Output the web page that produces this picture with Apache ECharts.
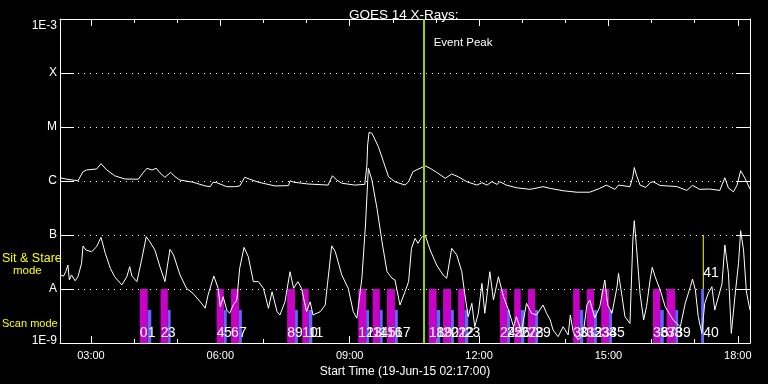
<!DOCTYPE html>
<html><head><meta charset="utf-8">
<script src="https://cdn.jsdelivr.net/npm/echarts@6/dist/echarts.min.js"></script>
<style>html,body{margin:0;padding:0;background:#000;}#c{width:768px;height:384px;}</style>
</head><body><div id="c"></div>
<script>
// ---- data ----
const longTimes = ['02:17','02:25','02:35','02:42','02:49','02:54','03:08','03:14','03:22','03:33',
'03:47','04:06','04:12','04:18','04:25','04:31','04:36','04:43','04:51','04:57',
'05:04','05:22','05:39','05:46','05:50','05:55','06:09','06:20','06:27','06:34',
'06:41','06:53','07:16','07:35','07:37','07:42','08:02','08:30','08:36','08:42',
'08:49','09:07','09:21','09:24','09:25','09:27','09:31','09:40','09:47','09:54',
'10:03','10:17','10:22','10:28','10:35','10:45','10:52','11:01','11:13','11:22',
'11:31','11:43','11:57','12:04','12:11','12:18','12:25','12:29','12:38','12:52',
'13:11','13:29','13:39','13:57','14:16','14:34','14:48','14:57','15:09','15:14',
'15:30','15:34','15:36','15:39','15:44','15:52','15:58','16:02','16:12','16:35',
'16:49','16:57','17:07','17:21','17:35','17:42','17:47','17:54','17:59','18:04',
'18:10','18:17'];
const longFlux = [1.15e-6,1.09e-6,1.04e-6,1.01e-6,1.49e-6,1.6e-6,1.67e-6,2.09e-6,1.6e-6,1.25e-6,
1.09e-6,1.08e-6,1.39e-6,1.72e-6,1.6e-6,1.72e-6,1.42e-6,1.17e-6,1.45e-6,1.2e-6,
1.04e-6,9.5e-7,8.1e-7,7.85e-7,9.5e-7,9.3e-7,7.85e-7,7.85e-7,8.1e-7,1.17e-6,
1.08e-6,9.5e-7,8.1e-7,8.2e-7,1.01e-6,9.5e-7,8.8e-7,8.4e-7,1.25e-6,1.04e-6,
9.1e-7,8.4e-7,8.65e-7,1.98e-6,4.64e-6,7.95e-6,7.65e-6,4.3e-6,2.28e-6,1.2e-6,
9.7e-7,8.4e-7,9.7e-7,1.49e-6,1.65e-6,1.9e-6,1.72e-6,1.45e-6,1.12e-6,1.35e-6,
1.2e-6,9.7e-7,8.4e-7,9.3e-7,8.4e-7,9.7e-7,8.65e-7,9.7e-7,8.4e-7,7.5e-7,
7.0e-7,7.85e-7,7.3e-7,6.6e-7,6.2e-7,6.2e-7,7.3e-7,8.4e-7,7.0e-7,8.4e-7,
7.85e-7,1.2e-6,1.78e-6,1.29e-6,8.4e-7,7.6e-7,9.3e-7,9.7e-7,8.25e-7,7.9e-7,
6.7e-7,8.3e-7,7.0e-7,7.1e-7,6.7e-7,1.15e-6,7.4e-7,6.3e-7,8.4e-7,1.55e-6,
1.12e-6,7.1e-7];

const shortTimes = ['02:17','02:22','02:25','02:28','02:30','02:33','02:38','02:42','02:47','02:49',
'02:53','03:01','03:08','03:14','03:20','03:27','03:33','03:43','03:50','03:54',
'03:57','04:04','04:11','04:17','04:22','04:29','04:36','04:43','04:50','04:55',
'05:04','05:13','05:22','05:32','05:39','05:43','05:51','05:57','06:00','06:04',
'06:09','06:13','06:18','06:23','06:27','06:33','06:39','06:46','06:53','07:00',
'07:07','07:12','07:19','07:23','07:30','07:37','07:42','07:48','07:53','08:00',
'08:05','08:09','08:19','08:26','08:29','08:35','08:40','08:49','08:58','09:05',
'09:10','09:17','09:22','09:26','09:31','09:38','09:45','09:52','09:59','10:03',
'10:10','10:17','10:22','10:26','10:31','10:35','10:40','10:45','10:52','11:01',
'11:10','11:15','11:22','11:29','11:36','11:40','11:45','11:50','11:54','11:59',
'12:04','12:08','12:15','12:20','12:27','12:34','12:41','12:48','12:52','12:59',
'13:06','13:13','13:20','13:29','13:34','13:39','13:43','13:50','13:57','14:04',
'14:07','14:11','14:18','14:25','14:30','14:34','14:41','14:48','14:55','14:59',
'15:05','15:12','15:14','15:19','15:23','15:30','15:34','15:36','15:39','15:44',
'15:49','15:53','15:58','16:01','16:05','16:12','16:19','16:30','16:40','16:47',
'16:54','16:57','17:01','17:05','17:10','17:14','17:19','17:24','17:28','17:38',
'17:42','17:47','17:51','17:56','18:01','18:04','18:08','18:12','18:17'];
const shortFlux = [1.82e-8,1.74e-8,2.09e-8,2.78e-8,1.47e-8,1.82e-8,1.42e-8,1.69e-8,2.99e-8,6.26e-8,
5.27e-8,4.9e-8,6.07e-8,9.06e-8,4.58e-8,2.42e-8,1.69e-8,1.19e-8,1.69e-8,2.59e-8,
1.74e-8,1.37e-8,3.7e-8,9.3e-8,7.5e-8,5.27e-8,2.59e-8,1.37e-8,5.43e-8,4.26e-8,
1.82e-8,1.03e-8,8.3e-9,5.8e-9,4.4e-9,7.74e-9,1.74e-8,1.03e-8,4.7e-9,7.2e-9,
4.08e-9,3.55e-9,5.05e-9,6.26e-9,2.42e-8,5.9e-8,3.96e-8,1.37e-8,1.37e-8,1.03e-8,
4.4e-9,8.9e-9,3.8e-9,3.3e-9,5.8e-9,2.09e-8,1.03e-8,1.37e-8,1.03e-8,3.8e-9,
5.8e-9,3.3e-9,3.8e-9,5.05e-9,1.19e-8,6.3e-8,4.9e-8,1.82e-8,1.03e-8,3.8e-9,
2.87e-9,1.58e-8,1.53e-7,1.72e-6,1.04e-6,3.12e-7,7.5e-8,2.09e-8,1.58e-8,1.47e-8,
5.05e-9,8.9e-9,1.37e-8,5.67e-8,8.65e-8,7.0e-8,9.06e-8,1.0e-7,5.27e-8,2.78e-8,
1.82e-8,1.58e-8,5.67e-8,4.26e-8,2.09e-8,8.3e-9,3.07e-9,5.43e-9,2.0e-9,3.55e-9,
1.27e-8,3.55e-9,2.09e-8,6.26e-9,1.69e-8,7.2e-9,4.08e-9,2.0e-9,3.07e-9,1.62e-9,
5.43e-9,3.55e-9,3.3e-9,5.05e-9,3.55e-9,2.67e-9,1.74e-9,1.31e-9,2.0e-9,1.41e-9,
3.3e-9,1.62e-9,1.14e-9,1.51e-9,5.05e-9,6.26e-9,2.9e-9,4.7e-9,1.47e-8,5.05e-9,
3.55e-9,1.1e-8,1.95e-8,7.2e-9,3.07e-9,2.3e-9,8.1e-8,1.84e-7,6.07e-8,8.3e-9,
2.67e-9,4.7e-9,1.47e-8,2.52e-8,1.69e-8,9.58e-9,4.7e-9,2.67e-9,2.0e-9,5.51e-9,
1.1e-8,1.53e-8,9.58e-9,3.07e-9,1.51e-9,5.43e-9,8.43e-9,1.1e-8,4.08e-9,1.24e-8,
6.53e-8,1.95e-8,1.51e-9,7.2e-9,2.99e-8,1.2e-7,5.27e-8,8.8e-9,4.08e-9];

// scan-mode observations (magenta = start..end, blue = end..blueEnd)
const scanStart  = ['04:08','04:37','05:55','06:15','07:33','07:54','09:12','09:32','09:52','10:50',
                    '11:10','11:31','12:29','12:49','13:08','14:11','14:30','14:50','16:02','16:21'];
const scanEnd    = ['04:19','04:47','06:05','06:26','07:44','08:03','09:23','09:42','10:03','11:01',
                    '11:21','11:40','12:39','12:58','13:18','14:20','14:40','15:01','16:12','16:33'];
const scanBlueEnd= ['04:24','04:51','06:09','06:30','07:48','08:08','09:27','09:46','10:07','11:06',
                    '11:25','11:45','12:43','13:03','13:22','14:25','14:44','15:05','16:17','16:37'];
const lastScanBlue = ['17:09','17:13'];
const lastScanObs = {time:'17:12', num:40};
const stareObs = {time:'17:12', num:41};
const peakTime = '10:43';
const startTime = '02:17', endTime = '18:17';
const xTickHours = [3,6,9,12,15,18];
const xTickLabels = ['03:00','06:00','09:00','12:00','15:00','18:00'];
const xMinorHours = [4,5,7,8,10,11,13,14,16,17];
const yTickExp = [-9,-8,-7,-6,-5,-4,-3];
const yTickLabels = ['1E-9','A','B','C','M','X','1E-3'];
const levelA = 1e-8, levelB = 1e-7, floorVal = 1e-9, blueTop = 4.1e-9;
const labelRowVal = 1.5e-9, stareLabelVal = 2.0e-8;

// ---- helpers ----
function h(t){const p=t.split(':').map(Number);return p[0]+p[1]/60;}
const FONT = '"Liberation Sans", Arial, sans-serif';
const XMIN = h(startTime), XMAX = h(endTime);

function rectSeries(starts, ends, top, bottom, color, z){
  return {
    type:'custom', xAxisIndex:0, yAxisIndex:0, silent:true, z:z,
    data: starts.map((s,i)=>[h(s), h(ends[i]), top, bottom]),
    encode:{x:[0,1], y:[2,3]},
    renderItem:(params, api)=>{
      const p0 = api.coord([api.value(0), api.value(2)]);
      const p1 = api.coord([api.value(1), api.value(3)]);
      return {type:'rect', shape:{x:p0[0], y:p0[1], width:p1[0]-p0[0], height:p1[1]-p0[1]}, style:{fill:color}};
    }
  };
}

const obsLabels = [];
scanStart.forEach((s,k)=>{
  obsLabels.push([h(s), labelRowVal, 2*k]);
  obsLabels.push([h(scanEnd[k]), labelRowVal, 2*k+1]);
});
obsLabels.push([h(lastScanObs.time), labelRowVal, lastScanObs.num]);
obsLabels.push([h(stareObs.time), stareLabelVal, stareObs.num]);

const chart = echarts.init(document.getElementById('c'), null, {renderer:'canvas'});
const white = '#ffffff';

const option = {
  backgroundColor:'#000000',
  animation:false,
  title:{text:'GOES 14 X-Rays:', left:344, top:3,
    textStyle:{color:white, fontSize:13.5, fontWeight:'normal', fontFamily:FONT}},
  grid:{left:60, right:18, top:19, bottom:41, containLabel:false},
  xAxis:[
    {type:'value', position:'bottom', min:XMIN, max:XMAX,
     axisLine:{show:true, onZero:false, lineStyle:{color:white, width:1}},
     axisTick:{show:true, inside:true, length:7, customValues:xTickHours, lineStyle:{color:white}},
     axisLabel:{show:true, customValues:xTickHours, margin:7, color:white, fontSize:11, fontFamily:FONT,
       formatter:v=>{const i=xTickHours.indexOf(Math.round(v)); return i>=0?xTickLabels[i]:'';}},
     splitLine:{show:false},
     name:'Start Time (19-Jun-15 02:17:00)', nameLocation:'middle', nameGap:19,
     nameTextStyle:{color:white, fontSize:12, fontFamily:FONT}},
    {type:'value', position:'bottom', min:XMIN, max:XMAX,
     axisLine:{show:false, onZero:false},
     axisTick:{show:true, inside:true, length:4, customValues:xMinorHours, lineStyle:{color:white}},
     axisLabel:{show:false}, splitLine:{show:false}},
    {type:'value', position:'top', min:XMIN, max:XMAX,
     axisLine:{show:true, onZero:false, lineStyle:{color:white, width:1}},
     axisTick:{show:true, inside:true, length:7, customValues:xTickHours, lineStyle:{color:white}},
     axisLabel:{show:false}, splitLine:{show:false}},
    {type:'value', position:'top', min:XMIN, max:XMAX,
     axisLine:{show:false, onZero:false},
     axisTick:{show:true, inside:true, length:4, customValues:xMinorHours, lineStyle:{color:white}},
     axisLabel:{show:false}, splitLine:{show:false}}
  ],
  yAxis:[
    {type:'log', logBase:10, min:1e-9, max:1e-3, position:'left',
     axisLine:{show:true, onZero:false, lineStyle:{color:white, width:1}},
     axisTick:{show:true, inside:true, length:14, lineStyle:{color:white, width:1}},
     axisLabel:{show:true, margin:3, color:white, fontSize:12, fontFamily:FONT, verticalAlign:'middle',
       rich:{
         top:{color:white, fontSize:12, fontFamily:FONT, padding:[14,0,0,0]},
         bot:{color:white, fontSize:12, fontFamily:FONT, padding:[0,0,5,0]}
       },
       formatter:v=>{
         const e=Math.round(Math.log10(v));
         const i=yTickExp.indexOf(e);
         if(i<0) return '';
         if(e===yTickExp[yTickExp.length-1]) return '{top|'+yTickLabels[i]+'}';
         if(e===yTickExp[0]) return '{bot|'+yTickLabels[i]+'}';
         return yTickLabels[i];
       }},
     splitLine:{show:true, lineStyle:{color:white, width:1, type:[1,5]}}},
    {type:'log', logBase:10, min:1e-9, max:1e-3, position:'right',
     axisLine:{show:true, onZero:false, lineStyle:{color:white, width:1}},
     axisTick:{show:true, inside:true, length:14, lineStyle:{color:white, width:1}},
     axisLabel:{show:false}, splitLine:{show:false}}
  ],
  series:[
    rectSeries(scanStart, scanEnd, levelA, floorVal, '#c800c8', 1),
    rectSeries(scanEnd, scanBlueEnd, blueTop, floorVal, '#6464ff', 1),
    rectSeries([lastScanBlue[0]], [lastScanBlue[1]], levelA, floorVal, '#6464ff', 1),
    {type:'line', name:'long', xAxisIndex:0, yAxisIndex:0, z:3, showSymbol:false, symbol:'none',
     data:longTimes.map((t,i)=>[h(t), longFlux[i]]),
     lineStyle:{color:white, width:1}},
    {type:'line', name:'short', xAxisIndex:0, yAxisIndex:0, z:3, showSymbol:false, symbol:'none',
     data:shortTimes.map((t,i)=>[h(t), shortFlux[i]]),
     lineStyle:{color:white, width:1},
     markLine:{silent:true, symbol:['none','none'], label:{show:false},
       lineStyle:{color:'#a0d000', width:2, type:'solid'},
       data:[{xAxis:h(peakTime)}]}},
    {type:'custom', xAxisIndex:0, yAxisIndex:0, silent:true, z:4,
     data:[[h(stareObs.time), levelB, levelA]],
     renderItem:(params, api)=>{
       const p0 = api.coord([api.value(0), api.value(1)]);
       const p1 = api.coord([api.value(0), api.value(2)]);
       return {type:'line', shape:{x1:p0[0], y1:p0[1], x2:p1[0], y2:p1[1]}, style:{stroke:'#ffff00', lineWidth:1}};
     }},
    {type:'custom', xAxisIndex:0, yAxisIndex:0, silent:true, z:5,
     data:obsLabels,
     renderItem:(params, api)=>{
       const p = api.coord([api.value(0), api.value(1)]);
       return {type:'text', x:p[0], y:p[1],
         style:{text:String(api.value(2)), fill:white, font:'14px '+FONT,
           align:'left', verticalAlign:'middle', textAlign:'left', textVerticalAlign:'middle'}};
     }}
  ]
};
chart.setOption(option);

const peakX = chart.convertToPixel({xAxisIndex:0}, h(peakTime));
chart.setOption({graphic:[
  {type:'text', x:peakX+10, y:43, style:{text:'Event Peak', fill:white, font:'11.5px '+FONT,
    align:'left', verticalAlign:'middle', textAlign:'left', textVerticalAlign:'middle'}},
  {type:'text', x:2, y:258.5, style:{text:'Sit & Stare', fill:'#ffff00', font:'12.5px '+FONT,
    align:'left', verticalAlign:'middle', textAlign:'left', textVerticalAlign:'middle'}},
  {type:'text', x:13, y:270.5, style:{text:'mode', fill:'#ffff00', font:'11.5px '+FONT,
    align:'left', verticalAlign:'middle', textAlign:'left', textVerticalAlign:'middle'}},
  {type:'text', x:2, y:323.5, style:{text:'Scan mode', fill:'#ffff00', font:'11px '+FONT,
    align:'left', verticalAlign:'middle', textAlign:'left', textVerticalAlign:'middle'}}
]});
</script></body></html>
